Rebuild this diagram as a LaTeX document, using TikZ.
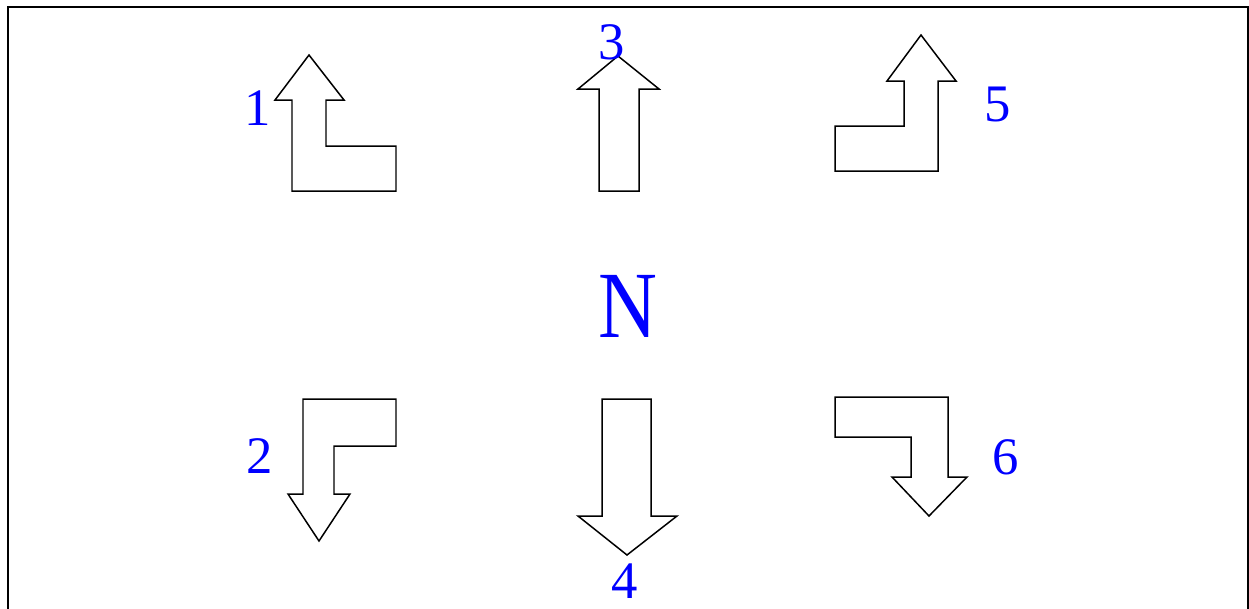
\documentclass[tikz,border=0pt]{standalone}
\usepackage{fontspec}
\setmainfont{Liberation Serif}
\usepackage{tikz}
\tikzset{
    turnarrow/.style={draw, line width=0.85pt, line join=miter, fill=white},
    numlabel/.style={text=blue, inner sep=0pt, font=\fontsize{30}{30}\selectfont},
    northlabel/.style={text=blue, inner sep=0pt, font=\fontsize{54}{54}\selectfont},
}

\begin{document}
\begin{tikzpicture}[x=0.02cm, y=-0.02cm]
    \useasboundingbox (0,0) rectangle (1249,609);
    \clip (0,0) rectangle (1249,609);
    % Frame
    \draw[line width=1.1pt] (8,7) rectangle (1248,640);

    % Upper row
    \draw[turnarrow] (309,55) -- (344,100) -- (326,100) -- (326,146) -- (396,146)
        -- (396,191) -- (292,191) -- (292,100) -- (275,100) -- cycle;
    \draw[turnarrow] (618,56) -- (659,89) -- (639,89) -- (639,191) -- (599,191)
        -- (599,89) -- (578,89) -- cycle;
    \draw[turnarrow] (921,35) -- (956,81) -- (938,81) -- (938,171) -- (835,171)
        -- (835,126) -- (904,126) -- (904,81) -- (887,81) -- cycle;

    % Lower row
    \draw[turnarrow] (303,399) -- (396,399) -- (396,446) -- (334,446) -- (334,494)
        -- (350,494) -- (319,541) -- (288,494) -- (303,494) -- cycle;
    \draw[turnarrow] (602,399) -- (651,399) -- (651,516) -- (677,516) -- (627,555)
        -- (578,516) -- (602,516) -- cycle;
    \draw[turnarrow] (835,397) -- (948,397) -- (948,477) -- (967,477) -- (929,516)
        -- (892,477) -- (911,477) -- (911,437) -- (835,437) -- cycle;

    % Labels
    \node[numlabel] (l1) at (258,108) {1};
    \node[numlabel] (l2) at (260,456) {2};
    \node[numlabel] (l3) at (612,42) {3};
    \node[numlabel] (l4) at (625,581) {4};
    \node[numlabel] (l5) at (998,104) {5};
    \node[numlabel] (l6) at (1006,457) {6};
    \node[northlabel] (north) at (628,306) {\scalebox{0.86}[1]{N}};
\end{tikzpicture}
\end{document}
